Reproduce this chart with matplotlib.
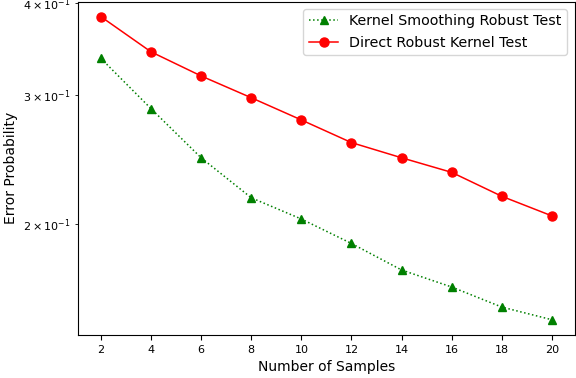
import matplotlib
matplotlib.use("Agg")
import matplotlib.pyplot as plt

samples = [2, 4, 6, 8, 10, 12, 14, 16, 18, 20]
kernel_smoothing = [0.336, 0.287, 0.246, 0.217, 0.203, 0.188, 0.173, 0.164, 0.154, 0.148]
direct_robust = [0.383, 0.343, 0.318, 0.297, 0.277, 0.258, 0.246, 0.235, 0.218, 0.205]

fig = plt.figure(figsize=(5.76, 3.78), dpi=100)
ax = fig.add_axes([0.136, 0.114, 0.8614, 0.882])
ax.plot(samples, kernel_smoothing, linestyle=':', marker='^', color='green',
        markersize=6, linewidth=1.1, label='Kernel Smoothing Robust Test')
ax.plot(samples, direct_robust, linestyle='-', marker='o', color='red',
        markersize=6.5, linewidth=1.1, label='Direct Robust Kernel Test')
ax.set_yscale('log')
ax.set_xticks(samples)
ax.tick_params(axis='both', which='both', labelsize=8)
ax.set_xlabel('Number of Samples', fontsize=10)
ax.set_ylabel('Error Probability', fontsize=10)
ax.legend(loc='upper right', fontsize=10.3)
fig.savefig('out.png', dpi=100)
